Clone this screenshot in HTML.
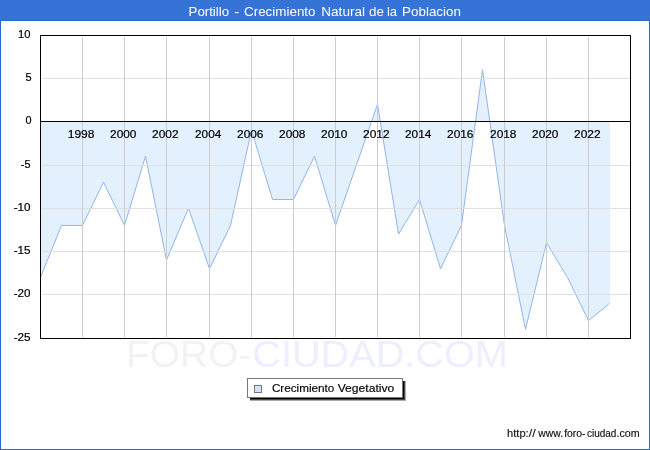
<!DOCTYPE html>
<html><head><meta charset="utf-8"><style>
html,body{margin:0;padding:0;background:#fff;}
body{width:650px;height:450px;overflow:hidden;position:relative;font-family:"Liberation Sans",sans-serif;}
svg{position:absolute;left:0;top:0;will-change:transform;}
text{font-family:"Liberation Sans",sans-serif;}
</style></head><body>
<svg width="650" height="450" viewBox="0 0 650 450">
<rect x="0" y="0" width="650" height="450" fill="#fff"/>
<g shape-rendering="crispEdges">
<rect x="0" y="0" width="650" height="20" fill="#3573d6"/>
<rect x="0" y="20" width="650" height="1" fill="#2a6ad2"/>
<rect x="0" y="20" width="1" height="430" fill="#2a6ad2"/>
<rect x="649" y="20" width="1" height="430" fill="#2a6ad2"/>
<rect x="0" y="449" width="650" height="1" fill="#2a6ad2"/>
</g>
<g fill="#fff"><text x="188.61" y="16" font-size="12.7" textLength="40.44" lengthAdjust="spacingAndGlyphs">Portillo</text><text x="234.33" y="16" font-size="12.7" textLength="5.05" lengthAdjust="spacingAndGlyphs">-</text><text x="244.02" y="16" font-size="12.7" textLength="71.54" lengthAdjust="spacingAndGlyphs">Crecimiento</text><text x="321.29" y="16" font-size="12.7" textLength="43.72" lengthAdjust="spacingAndGlyphs">Natural</text><text x="369.04" y="16" font-size="12.7" textLength="14.85" lengthAdjust="spacingAndGlyphs">de</text><text x="386.92" y="16" font-size="12.7" textLength="10.18" lengthAdjust="spacingAndGlyphs">la</text><text x="402.10" y="16" font-size="12.7" textLength="58.87" lengthAdjust="spacingAndGlyphs">Poblacion</text></g>
<polygon points="40.50,121.5 40.50,277.40 61.50,225.46 82.50,225.46 103.50,182.17 124.50,225.46 145.50,156.20 166.50,260.09 188.50,208.14 209.50,268.74 230.50,225.46 251.50,130.23 272.50,199.49 293.50,199.49 314.50,156.20 335.50,225.46 356.50,164.86 377.50,104.26 398.50,234.11 419.50,199.49 440.50,268.74 461.50,225.46 482.50,69.63 504.50,225.46 525.50,329.34 546.50,242.77 567.50,277.40 588.50,320.69 609.50,303.37 610,303.37 610,121.5" fill="#e3f0fd" stroke="none"/>
<polyline points="40.50,277.40 61.50,225.46 82.50,225.46 103.50,182.17 124.50,225.46 145.50,156.20 166.50,260.09 188.50,208.14 209.50,268.74 230.50,225.46 251.50,130.23 272.50,199.49 293.50,199.49 314.50,156.20 335.50,225.46 356.50,164.86 377.50,104.26 398.50,234.11 419.50,199.49 440.50,268.74 461.50,225.46 482.50,69.63 504.50,225.46 525.50,329.34 546.50,242.77 567.50,277.40 588.50,320.69 609.50,303.37" fill="none" stroke="#93b4eb" stroke-width="1"/>
<g stroke="#e0e0e0" stroke-width="1" shape-rendering="crispEdges"><line x1="42" y1="78.5" x2="630" y2="78.5"/><line x1="42" y1="165.5" x2="630" y2="165.5"/><line x1="42" y1="208.5" x2="630" y2="208.5"/><line x1="42" y1="251.5" x2="630" y2="251.5"/><line x1="42" y1="294.5" x2="630" y2="294.5"/></g>
<g stroke="#cccccc" stroke-width="1" shape-rendering="crispEdges"><line x1="82.5" y1="37" x2="82.5" y2="337"/><line x1="124.5" y1="37" x2="124.5" y2="337"/><line x1="166.5" y1="37" x2="166.5" y2="337"/><line x1="209.5" y1="37" x2="209.5" y2="337"/><line x1="251.5" y1="37" x2="251.5" y2="337"/><line x1="293.5" y1="37" x2="293.5" y2="337"/><line x1="335.5" y1="37" x2="335.5" y2="337"/><line x1="377.5" y1="37" x2="377.5" y2="337"/><line x1="419.5" y1="37" x2="419.5" y2="337"/><line x1="461.5" y1="37" x2="461.5" y2="337"/><line x1="504.5" y1="37" x2="504.5" y2="337"/><line x1="546.5" y1="37" x2="546.5" y2="337"/><line x1="588.5" y1="37" x2="588.5" y2="337"/></g>
<line x1="40" y1="121.5" x2="631" y2="121.5" stroke="#000" stroke-width="1" shape-rendering="crispEdges"/>
<rect x="40.5" y="35.5" width="590" height="303" fill="none" stroke="#000" stroke-width="1" shape-rendering="crispEdges"/>
<g fill="#000" stroke="#000" stroke-width="0.2"><text x="18.09" y="37.8" font-size="11" textLength="12.49" lengthAdjust="spacingAndGlyphs">10</text><text x="25.41" y="80.8" font-size="11" textLength="6.10" lengthAdjust="spacingAndGlyphs">5</text><text x="25.43" y="123.8" font-size="11" textLength="6.05" lengthAdjust="spacingAndGlyphs">0</text><text x="20.77" y="167.8" font-size="11" textLength="9.64" lengthAdjust="spacingAndGlyphs">-5</text><text x="13.73" y="210.8" font-size="11" textLength="16.87" lengthAdjust="spacingAndGlyphs">-10</text><text x="13.73" y="253.8" font-size="11" textLength="16.91" lengthAdjust="spacingAndGlyphs">-15</text><text x="13.73" y="296.8" font-size="11" textLength="16.87" lengthAdjust="spacingAndGlyphs">-20</text><text x="13.73" y="340.8" font-size="11" textLength="16.91" lengthAdjust="spacingAndGlyphs">-25</text></g>
<g fill="#000" stroke="#000" stroke-width="0.2"><text x="67.73" y="138" font-size="11" textLength="26.74" lengthAdjust="spacingAndGlyphs">1998</text><text x="110.05" y="138" font-size="11" textLength="26.36" lengthAdjust="spacingAndGlyphs">2000</text><text x="152.05" y="138" font-size="11" textLength="26.50" lengthAdjust="spacingAndGlyphs">2002</text><text x="195.06" y="138" font-size="11" textLength="26.24" lengthAdjust="spacingAndGlyphs">2004</text><text x="237.05" y="138" font-size="11" textLength="26.42" lengthAdjust="spacingAndGlyphs">2006</text><text x="279.05" y="138" font-size="11" textLength="26.41" lengthAdjust="spacingAndGlyphs">2008</text><text x="321.05" y="138" font-size="11" textLength="26.36" lengthAdjust="spacingAndGlyphs">2010</text><text x="363.05" y="138" font-size="11" textLength="26.50" lengthAdjust="spacingAndGlyphs">2012</text><text x="405.06" y="138" font-size="11" textLength="26.24" lengthAdjust="spacingAndGlyphs">2014</text><text x="447.05" y="138" font-size="11" textLength="26.42" lengthAdjust="spacingAndGlyphs">2016</text><text x="490.05" y="138" font-size="11" textLength="26.41" lengthAdjust="spacingAndGlyphs">2018</text><text x="532.05" y="138" font-size="11" textLength="26.36" lengthAdjust="spacingAndGlyphs">2020</text><text x="574.05" y="138" font-size="11" textLength="26.50" lengthAdjust="spacingAndGlyphs">2022</text></g>
<g><text x="126.11" y="367" font-size="37.5" textLength="125.22" lengthAdjust="spacingAndGlyphs" fill="#f2f2f2">FORO-</text><text x="252.29" y="367" font-size="37.5" textLength="255.57" lengthAdjust="spacingAndGlyphs" fill="#eeeeff">CIUDAD.COM</text></g>
<g shape-rendering="crispEdges"><rect x="250" y="381" width="156" height="20" fill="#aaa"/><rect x="250" y="381" width="155" height="19" fill="#4a4a4a"/><rect x="250" y="381" width="154" height="18" fill="#000"/></g>
<rect x="247.5" y="378.5" width="155" height="19" fill="#fff" stroke="#777" stroke-width="1"/>
<rect x="254.5" y="385.5" width="7" height="7" fill="#cce6ff" stroke="#777" stroke-width="1"/>
<g fill="#000" stroke="#000" stroke-width="0.15"><text x="271.91" y="392" font-size="11" textLength="62.38" lengthAdjust="spacingAndGlyphs">Crecimiento</text><text x="337.65" y="392" font-size="11" textLength="56.66" lengthAdjust="spacingAndGlyphs">Vegetativo</text></g>
<g fill="#111" stroke="#111" stroke-width="0.15"><text x="507.13" y="436.8" font-size="10.5" textLength="21.58" lengthAdjust="spacingAndGlyphs">http:</text><text x="528.80" y="436.8" font-size="10.5" textLength="6.90" lengthAdjust="spacingAndGlyphs">//</text><text x="538.31" y="436.8" font-size="10.5" textLength="24.71" lengthAdjust="spacingAndGlyphs">www.</text><text x="564.15" y="436.8" font-size="10.5" textLength="21.41" lengthAdjust="spacingAndGlyphs">foro-</text><text x="586.98" y="436.8" font-size="10.5" textLength="29.47" lengthAdjust="spacingAndGlyphs">ciudad</text><text x="616.42" y="436.8" font-size="10.5" textLength="23.18" lengthAdjust="spacingAndGlyphs">.com</text></g>
</svg>
</body></html>
